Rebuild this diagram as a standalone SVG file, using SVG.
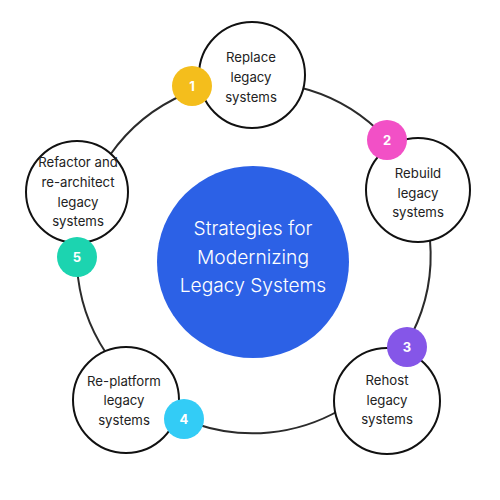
<svg xmlns="http://www.w3.org/2000/svg" width="500" height="500" viewBox="0 0 500 500">
<style>
.conn{fill:none;stroke:#2b2b2b;stroke-width:2}
.node{fill:#fff;stroke:#111;stroke-width:2}
.lbl{font-family:Inter,"Liberation Sans",sans-serif;font-size:13.2px;fill:#222;text-anchor:middle}
.ctr{font-family:Inter,"Liberation Sans",sans-serif;font-size:19.2px;fill:#fff;text-anchor:middle;font-weight:300}
.num{font-family:Inter,"Liberation Sans",sans-serif;font-size:13px;font-weight:700;fill:#fff;text-anchor:middle}
</style>
<rect width="500" height="500" fill="#fff"/>
<g id="connectors">
<path class="conn" d="M298,87 A176,176 0 0 1 378,130"/>
<path class="conn" d="M430,240 A176,176 0 0 1 412,334"/>
<path class="conn" d="M340,410 A176,176 0 0 1 196,424"/>
<path class="conn" d="M106,353 A176,176 0 0 1 77,266"/>
<path class="conn" d="M110,155 A176,176 0 0 1 185,94"/>
</g>
<g id="center">
<circle cx="253" cy="262" r="96" fill="#2C61E6"/>
<text class="ctr" x="253" y="235">Strategies for</text>
<text class="ctr" x="253" y="264">Modernizing</text>
<text class="ctr" x="253" y="292">Legacy Systems</text>
</g>
<g id="n1">
<circle class="node" cx="252" cy="75" r="53"/>
<text class="lbl" x="251" y="62">Replace</text>
<text class="lbl" x="251" y="82">legacy</text>
<text class="lbl" x="251" y="102">systems</text>
</g>
<g id="n2">
<circle class="node" cx="418" cy="190" r="52"/>
<text class="lbl" x="418" y="178">Rebuild</text>
<text class="lbl" x="418" y="198">legacy</text>
<text class="lbl" x="418" y="217">systems</text>
</g>
<g id="n3">
<circle class="node" cx="387" cy="401" r="53"/>
<text class="lbl" x="387" y="385">Rehost</text>
<text class="lbl" x="387" y="405">legacy</text>
<text class="lbl" x="387" y="424">systems</text>
</g>
<g id="n4">
<circle class="node" cx="126" cy="400" r="53"/>
<text class="lbl" x="124" y="386">Re-platform</text>
<text class="lbl" x="124" y="405">legacy</text>
<text class="lbl" x="124" y="425">systems</text>
</g>
<g id="n5">
<circle class="node" cx="77" cy="192" r="51"/>
<text class="lbl" x="78" y="167">Refactor and</text>
<text class="lbl" x="78" y="187">re-architect</text>
<text class="lbl" x="78" y="207">legacy</text>
<text class="lbl" x="78" y="226">systems</text>
</g>
<g id="b1"><circle cx="192" cy="86" r="20" fill="#F4BE1C"/><text class="num" x="192" y="91">1</text></g>
<g id="b2"><circle cx="387" cy="140" r="20" fill="#F250C6"/><text class="num" x="387" y="145">2</text></g>
<g id="b3"><circle cx="407" cy="347" r="20" fill="#8556E8"/><text class="num" x="407" y="352">3</text></g>
<g id="b4"><circle cx="184" cy="419" r="20" fill="#33CCF6"/><text class="num" x="184" y="424">4</text></g>
<g id="b5"><circle cx="77" cy="257" r="20" fill="#1CD4B0"/><text class="num" x="77" y="262">5</text></g>
</svg>
